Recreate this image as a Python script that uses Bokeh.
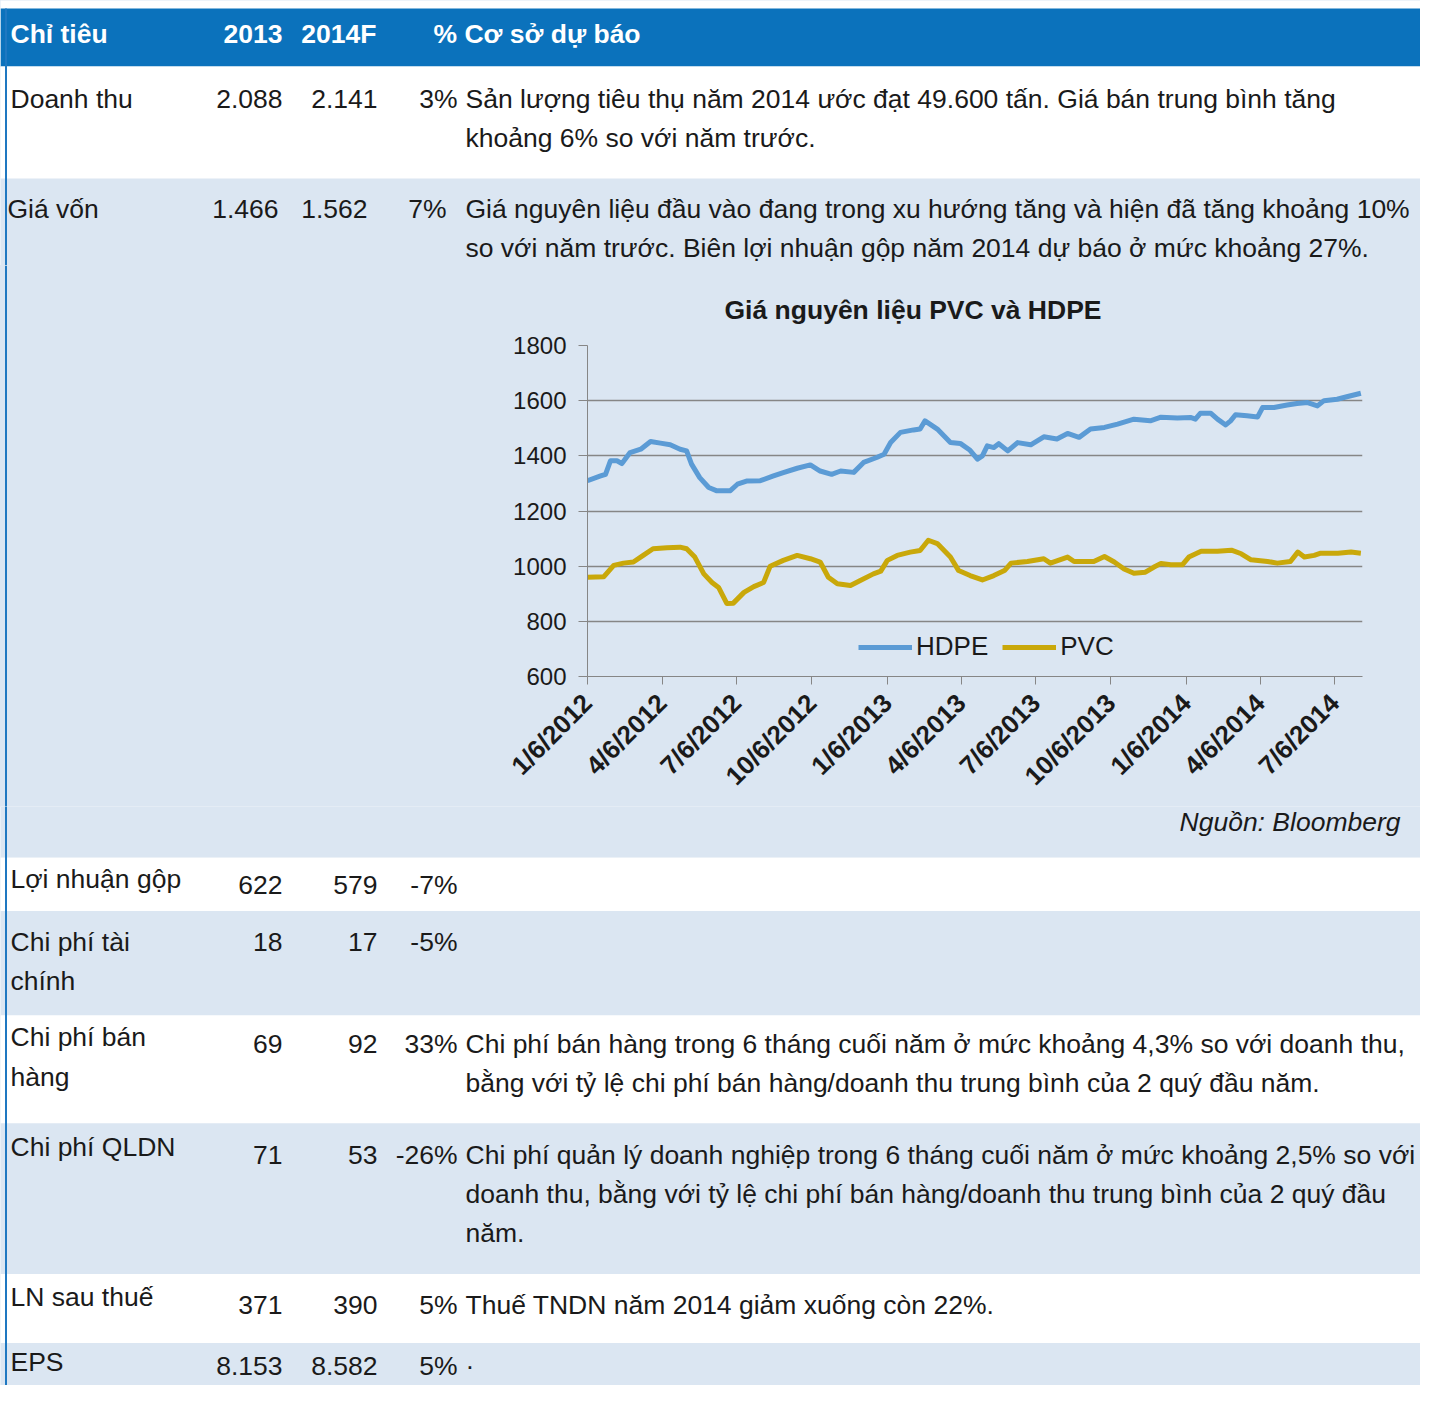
import pandas as pd
from bokeh.plotting import figure
from bokeh.models import Range1d, FixedTicker, Legend, LegendItem, ColumnDataSource
from bokeh.layouts import column, row
from bokeh.embed import file_html
from bokeh.resources import INLINE
from bokeh.core.properties import value

FONT = "Liberation Sans"
BLUE_HDR = "#0B72BC"
BG_BLUE = "#DBE6F2"
WHITE = "#FFFFFF"
TXT = "#1A1A1A"
FS = "26.5px"

# ---------------- table content ----------------
header = ["Chỉ tiêu", "2013", "2014F", "% Cơ sở dự báo"]
row_labels = [["Doanh thu"], ["Giá vốn"], ["Lợi nhuận gộp"], ["Chi phí tài", "chính"],
              ["Chi phí bán", "hàng"], ["Chi phí QLDN"], ["LN sau thuế"], ["EPS"]]
val_2013 = ["2.088", "1.466", "622", "18", "69", "71", "371", "8.153"]
val_2014F = ["2.141", "1.562", "579", "17", "92", "53", "390", "8.582"]
pct_change = ["3%", "7%", "-7%", "-5%", "33%", "-26%", "5%", "5%"]
descriptions = [
    ["Sản lượng tiêu thụ năm 2014 ước đạt 49.600 tấn. Giá bán trung bình tăng",
     "khoảng 6% so với năm trước."],
    ["Giá nguyên liệu đầu vào đang trong xu hướng tăng và hiện đã tăng khoảng 10%",
     "so với năm trước. Biên lợi nhuận gộp năm 2014 dự báo ở mức khoảng 27%."],
    [],
    [],
    ["Chi phí bán hàng trong 6 tháng cuối năm ở mức khoảng 4,3% so với doanh thu,",
     "bằng với tỷ lệ chi phí bán hàng/doanh thu trung bình của 2 quý đầu năm."],
    ["Chi phí quản lý doanh nghiệp trong 6 tháng cuối năm ở mức khoảng 2,5% so với",
     "doanh thu, bằng với tỷ lệ chi phí bán hàng/doanh thu trung bình của 2 quý đầu",
     "năm."],
    ["Thuế TNDN năm 2014 giảm xuống còn 22%."],
    ["·"],
]
source_note = "Nguồn: Bloomberg"

# ---------------- chart data ----------------
chart_title = "Giá nguyên liệu PVC và HDPE"
hdpe_dates = ["2012-01-06", "2012-01-22", "2012-01-28", "2012-02-03", "2012-02-11", "2012-02-17",
              "2012-02-27", "2012-03-11", "2012-03-23", "2012-04-04", "2012-04-16", "2012-04-28",
              "2012-05-06", "2012-05-12", "2012-05-22", "2012-06-02", "2012-06-12", "2012-06-28",
              "2012-07-07", "2012-07-19", "2012-08-04", "2012-08-20", "2012-09-01", "2012-09-18",
              "2012-10-04", "2012-10-16", "2012-10-30", "2012-11-10", "2012-11-26", "2012-12-08",
              "2012-12-24", "2013-01-02", "2013-01-10", "2013-01-22", "2013-02-07", "2013-02-15",
              "2013-02-21", "2013-03-08", "2013-03-24", "2013-04-05", "2013-04-17", "2013-04-26",
              "2013-05-02", "2013-05-08", "2013-05-16", "2013-05-22", "2013-06-02", "2013-06-14",
              "2013-06-30", "2013-07-16", "2013-08-01", "2013-08-14", "2013-08-28", "2013-09-11",
              "2013-09-28", "2013-10-14", "2013-11-03", "2013-11-23", "2013-12-06", "2013-12-26",
              "2014-01-11", "2014-01-17", "2014-01-23", "2014-02-05", "2014-02-13", "2014-02-23",
              "2014-03-01", "2014-03-07", "2014-03-21", "2014-04-03", "2014-04-09", "2014-04-23",
              "2014-05-09", "2014-05-21", "2014-06-03", "2014-06-15", "2014-06-23", "2014-07-09",
              "2014-07-22", "2014-08-07"]
hdpe_values = [1310, 1327, 1333, 1382, 1382, 1372, 1412, 1424, 1452, 1446,
               1440, 1424, 1418, 1370, 1321, 1285, 1273, 1273, 1297, 1309,
               1310, 1327, 1339, 1355, 1367, 1345, 1333, 1345, 1340, 1376,
               1394, 1406, 1448, 1485, 1494, 1497, 1527, 1497, 1448, 1445,
               1420, 1388, 1400, 1436, 1430, 1444, 1418, 1448, 1440, 1469,
               1461, 1481, 1467, 1497, 1503, 1515, 1533, 1527, 1540, 1537,
               1539, 1533, 1554, 1554, 1533, 1512, 1527, 1549, 1545, 1541,
               1575, 1575, 1584, 1590, 1593, 1581, 1600, 1605, 1615, 1627]
pvc_dates = ["2012-01-06", "2012-01-26", "2012-02-07", "2012-02-19", "2012-03-02", "2012-03-14",
             "2012-03-26", "2012-04-12", "2012-04-28", "2012-05-06", "2012-05-16", "2012-05-27",
             "2012-06-06", "2012-06-14", "2012-06-24", "2012-07-02", "2012-07-15", "2012-07-27",
             "2012-08-08", "2012-08-16", "2012-09-01", "2012-09-18", "2012-10-04", "2012-10-16",
             "2012-10-26", "2012-11-06", "2012-11-22", "2012-12-04", "2012-12-20", "2012-12-29",
             "2013-01-06", "2013-01-18", "2013-02-03", "2013-02-15", "2013-02-25", "2013-03-08",
             "2013-03-24", "2013-04-03", "2013-04-17", "2013-05-02", "2013-05-16", "2013-05-29",
             "2013-06-06", "2013-06-26", "2013-07-16", "2013-07-24", "2013-08-14", "2013-08-22",
             "2013-09-15", "2013-09-28", "2013-10-10", "2013-10-22", "2013-11-03", "2013-11-17",
             "2013-11-27", "2013-12-06", "2013-12-18", "2014-01-01", "2014-01-09", "2014-01-24",
             "2014-02-13", "2014-03-02", "2014-03-14", "2014-03-26", "2014-04-15", "2014-04-27",
             "2014-05-13", "2014-05-22", "2014-05-30", "2014-06-11", "2014-06-19", "2014-07-10",
             "2014-07-26", "2014-08-07"]
pvc_values = [960, 962, 1003, 1011, 1015, 1039, 1063, 1067, 1069, 1063,
              1033, 972, 941, 923, 865, 866, 905, 926, 941, 1000,
              1021, 1039, 1027, 1015, 960, 936, 930, 948, 972, 982,
              1021, 1039, 1051, 1057, 1094, 1082, 1033, 984, 966, 950,
              966, 984, 1011, 1017, 1027, 1011, 1033, 1017, 1017, 1035,
              1015, 990, 974, 978, 996, 1010, 1005, 1005, 1033, 1054,
              1054, 1058, 1045, 1023, 1017, 1011, 1017, 1051, 1033, 1039,
              1047, 1047, 1051, 1047]
tick_dates = ["2012-01-06", "2012-04-06", "2012-07-06", "2012-10-06", "2013-01-06", "2013-04-06",
              "2013-07-06", "2013-10-06", "2014-01-06", "2014-04-06", "2014-07-06"]
tick_labels = ["1/6/2012", "4/6/2012", "7/6/2012", "10/6/2012", "1/6/2013", "4/6/2013",
               "7/6/2013", "10/6/2013", "1/6/2014", "4/6/2014", "7/6/2014"]
y_ticks = [600, 800, 1000, 1200, 1400, 1600, 1800]

# ---------------- layout (page geometry, reference pixels) ----------------
row_top = [66, 178, 858, 912, 1018, 1127, 1280, 1350]
row_bot = [178, 858, 912, 1018, 1127, 1280, 1350, 1401]
row_fill = [WHITE, BG_BLUE, WHITE, BG_BLUE, WHITE, BG_BLUE, WHITE, BG_BLUE]
label_y = [98, 208, 880, 943, 1040, 1151, 1303, 1369]
num_y = [98, 208, 886, 943, 1047, 1159, 1311, 1373]
label_x = [10, 7, 10, 10, 10, 10, 10, 10]
x13 = [282, 278, 282, 282, 282, 282, 282, 282]
x14 = [377, 367, 377, 377, 377, 377, 377, 377]
xpct = [457, 446, 457, 457, 457, 457, 457, 457]
DESC_X = 465
LINE_H = 39.5
SPLIT_TOP = 265      # ref y where the chart strip starts
SPLIT_BOT = 806      # ref y where the chart strip ends

texts = []  # (x, y, text, align, color, style)
hx = [10, 282, 376, 433]
ha = ["left", "right", "right", "left"]
for t, x, a in zip(header, hx, ha):
    texts.append((x, 33, t, a, WHITE, "bold"))
for i in range(len(row_labels)):
    for j, t in enumerate(row_labels[i]):
        texts.append((label_x[i], label_y[i] + j * 40, t, "left", TXT, "normal"))
    texts.append((x13[i], num_y[i], val_2013[i], "right", TXT, "normal"))
    texts.append((x14[i], num_y[i], val_2014F[i], "right", TXT, "normal"))
    texts.append((xpct[i], num_y[i], pct_change[i], "right", TXT, "normal"))
    for j, t in enumerate(descriptions[i]):
        texts.append((DESC_X, num_y[i] + j * LINE_H, t, "left", TXT, "normal"))
texts.append((1400, 822, source_note, "right", TXT, "italic"))


def blank(width, height, xr, yr, bg):
    p = figure(width=width, height=height, x_range=Range1d(*xr), y_range=Range1d(*yr),
               output_backend="svg", toolbar_location=None, min_border=0,
               x_axis_location=None, y_axis_location=None,
               background_fill_color=bg, border_fill_color=bg)
    p.outline_line_color = None
    p.xgrid.visible = False
    p.ygrid.visible = False
    p.frame_align = False
    return p


def draw_table(p, y0, y1):
    p.quad(left=[0], right=[1436], top=[8], bottom=[66], color=BLUE_HDR, line_color=None)
    p.quad(left=[0] * len(row_top), right=[1436] * len(row_top), top=row_top, bottom=row_bot,
           color=row_fill, line_color=None)
    p.line(x=[5.5, 5.5], y=[8, 1401], line_color="#1F78C1", line_width=2)
    groups = {}
    for (x, y, t, a, c, s) in texts:
        if y0 <= y <= y1:
            g = groups.setdefault((a, c, s), {"x": [], "y": [], "t": []})
            g["x"].append(x); g["y"].append(y); g["t"].append(t)
    for (a, c, s), g in groups.items():
        p.text(x=g["x"], y=g["y"], text=g["t"], text_align=a, text_baseline="middle",
               text_color=c, text_font=value(FONT), text_font_style=s, text_font_size=FS)


top = blank(1420, SPLIT_TOP, (0, 1420), (SPLIT_TOP, 0), WHITE)
draw_table(top, 0, SPLIT_TOP)

bottom = blank(1420, 1385 - (SPLIT_BOT - SPLIT_TOP) - SPLIT_TOP, (0, 1420), (1393, SPLIT_BOT), WHITE)
draw_table(bottom, SPLIT_BOT, 1393)

mid_h = SPLIT_BOT - SPLIT_TOP
left = blank(480, mid_h, (0, 480), (SPLIT_BOT, SPLIT_TOP), BG_BLUE)
left.line(x=[5.5, 5.5], y=[SPLIT_TOP, SPLIT_BOT], line_color="#1F78C1", line_width=2)

# ---------------- chart ----------------
chart = figure(width=940, height=mid_h, x_axis_type="datetime",
               x_range=Range1d(pd.Timestamp("2012-01-06"), pd.Timestamp("2014-08-09")),
               y_range=Range1d(600, 1800),
               output_backend="svg", toolbar_location=None,
               min_border_left=107, min_border_right=58, min_border_top=345 - SPLIT_TOP,
               min_border_bottom=SPLIT_BOT - 676,
               background_fill_color=BG_BLUE, border_fill_color=BG_BLUE, title=chart_title)
chart.frame_align = False
chart.outline_line_color = None
chart.title.text_font = FONT
chart.title.text_font_size = FS
chart.title.text_font_style = "bold"
chart.title.text_color = TXT
chart.title.align = "left"
chart.title.offset = 137
chart.title.standoff = 42

src_h = ColumnDataSource(dict(x=pd.to_datetime(hdpe_dates), y=hdpe_values))
src_p = ColumnDataSource(dict(x=pd.to_datetime(pvc_dates), y=pvc_values))
r_h = chart.line("x", "y", source=src_h, line_color="#5B9BD5", line_width=5, line_join="round")
r_p = chart.line("x", "y", source=src_p, line_color="#C9A80A", line_width=5, line_join="round")

tick_ms = [pd.Timestamp(d).value / 1e6 for d in tick_dates]
chart.xaxis.ticker = FixedTicker(ticks=tick_ms)
chart.xaxis.major_label_overrides = {ms: lbl for ms, lbl in zip(tick_ms, tick_labels)}
chart.xaxis.major_label_orientation = 0.785
chart.xaxis.major_label_text_font = FONT
chart.xaxis.major_label_text_font_size = "26px"
chart.xaxis.major_label_text_font_style = "bold"
chart.xaxis.major_label_text_color = TXT
chart.xaxis.major_tick_out = 8
chart.xaxis.major_tick_in = 0
chart.xaxis.minor_tick_line_color = None
chart.xaxis.axis_line_color = "#868686"
chart.xaxis.major_tick_line_color = "#868686"
chart.xaxis.major_label_standoff = 14

chart.yaxis.ticker = FixedTicker(ticks=y_ticks)
chart.yaxis.major_label_text_font = FONT
chart.yaxis.major_label_text_font_size = "24px"
chart.yaxis.major_label_text_color = TXT
chart.yaxis.major_tick_out = 9
chart.yaxis.major_tick_in = 0
chart.yaxis.minor_tick_line_color = None
chart.yaxis.axis_line_color = "#868686"
chart.yaxis.major_tick_line_color = "#868686"
chart.yaxis.major_label_standoff = 12

chart.xgrid.visible = False
chart.ygrid.grid_line_color = "#868686"
chart.ygrid.grid_line_width = 1.5

legend = Legend(items=[LegendItem(label="HDPE", renderers=[r_h]),
                       LegendItem(label="PVC", renderers=[r_p])],
                orientation="horizontal", location=(271, 14),
                label_text_font=FONT, label_text_font_size="26px", label_text_color=TXT,
                glyph_width=54, glyph_height=20, label_standoff=4, spacing=14,
                padding=0, margin=0, background_fill_alpha=0, border_line_color=None)
chart.add_layout(legend)

page = column(top, row(left, chart, spacing=0, styles={"background-color": BG_BLUE}),
              bottom, spacing=0, styles={"background-color": BG_BLUE})
open("out.html", "w").write(file_html(page, INLINE))
